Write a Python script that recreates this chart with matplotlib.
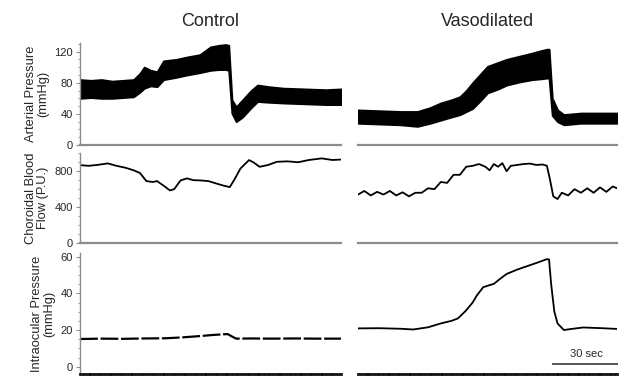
import matplotlib.pyplot as plt
from matplotlib.ticker import MultipleLocator

plt.rcParams['font.family'] = ['Liberation Sans', 'DejaVu Sans']

# --- arterial pressure (mmHg): upper / lower envelope of the pulsatile trace
ap_ctrl_t = [0, 5, 10, 15, 20, 25, 28, 30, 33, 36, 39, 45, 50, 56, 61, 65, 68, 69.5,
             71, 73, 76, 80, 83, 88, 95, 105, 115, 122]
ap_ctrl_hi = [84, 83, 84, 82, 83, 84, 92, 100, 96, 94, 108, 110, 113, 116, 126, 128, 129, 128,
              58, 49, 58, 70, 77, 75, 73, 72, 71, 72]
ap_ctrl_lo = [60, 61, 60, 60, 61, 62, 68, 73, 76, 75, 84, 87, 90, 93, 96, 97, 97, 96,
              41, 30, 36, 48, 56, 55, 54, 53, 52, 52]

ap_vaso_t = [0, 10, 20, 28, 34, 39, 44, 48, 51, 54, 58, 61, 66, 70, 76, 82, 86, 89, 90,
             91.5, 94, 97, 105, 115, 122]
ap_vaso_hi = [45, 44, 43, 43, 48, 54, 58, 62, 70, 80, 92, 101, 106, 110, 114, 118, 121, 123, 123,
              60, 45, 39, 41, 41, 41]
ap_vaso_lo = [28, 27, 26, 24, 28, 32, 36, 39, 43, 47, 58, 67, 72, 77, 81, 84, 85, 86, 86,
              38, 30, 26, 28, 28, 28]

# --- choroidal blood flow (P.U.)
cbf_ctrl_t = [0, 4, 8, 13, 17, 21, 25, 28, 31, 34, 36, 39, 42, 44, 47, 50, 53, 56, 60, 64,
              67, 70, 72, 75, 79, 81, 84, 88, 92, 97, 102, 107, 113, 118, 122]
cbf_ctrl = [868, 860, 870, 887, 860, 840, 811, 780, 690, 680, 690, 640, 586, 600, 698, 720,
            700, 698, 690, 661, 640, 623, 700, 830, 924, 900, 849, 870, 905, 910, 900, 925,
            943, 925, 930]

cbf_vaso_t = [0, 3, 6, 9, 12, 15, 18, 21, 24, 27, 30, 33, 36, 39, 42, 45, 48, 51, 54, 57,
              60, 62, 64, 66, 68, 70, 72, 75, 78, 81, 84, 87, 89, 90.5, 92, 94, 96, 99,
              102, 105, 108, 111, 114, 117, 120, 122]
cbf_vaso = [540, 580, 530, 570, 540, 580, 530, 565, 520, 560, 560, 610, 600, 680, 670, 760,
            760, 850, 860, 880, 850, 810, 880, 850, 890, 800, 860, 870, 880, 885, 870, 875,
            860, 700, 520, 490, 560, 530, 600, 560, 610, 560, 620, 570, 630, 610]

# --- intraocular pressure (mmHg)
iop_ctrl_t = [0, 10, 20, 30, 40, 48, 56, 62, 69, 71, 73, 80, 90, 100, 110, 122]
iop_ctrl = [15.1, 15.3, 15.2, 15.4, 15.5, 16.0, 16.7, 17.3, 17.8, 16.5, 15.3, 15.4, 15.3,
            15.4, 15.3, 15.3]

iop_vaso_t = [0, 10, 20, 26, 33, 39, 44, 47, 49, 51, 54, 56, 59, 62, 64, 67, 70, 75, 80,
              85, 89, 90, 91, 92.5, 94, 97, 100, 106, 115, 122]
iop_vaso = [20.9, 21.0, 20.7, 20.3, 21.5, 23.6, 25.0, 26.3, 28.5, 30.8, 35, 38.9, 43.4,
            44.5, 45.2, 48, 50.6, 53, 55, 57, 58.7, 58.5, 45, 30, 23.6, 20, 20.5, 21.4,
            21, 20.6]

titles = ['Control', 'Vasodilated']
ylabels = ['Arterial Pressure\n(mmHg)', 'Choroidal Blood\nFlow (P.U.)',
           'Intraocular Pressure\n(mmHg)']

fig = plt.figure(figsize=(6.21, 3.79), dpi=100)

# axes rectangles in figure fraction
cols = [(0.129, 0.420), (0.5765, 0.417)]
rows = [(0.6174, 0.2691), (0.3588, 0.2375), (0.0132, 0.3190)]
ylims = [(0, 131), (0, 1003), (-4, 62)]
majors = [40, 400, 20]
minors = [10, 100, 5]

grey = '#8c8c8c'
txt = '#262626'

axes = [[None, None] for _ in rows]
for r, (yb, h) in enumerate(rows):
    for c, (xl, w) in enumerate(cols):
        ax = fig.add_axes([xl, yb, w, h])
        ax.set_xlim(0, 122)
        ax.set_ylim(*ylims[r])
        ax.spines['top'].set_visible(False)
        ax.spines['right'].set_visible(False)
        ax.set_xticks([])
        if r < 2:
            ax.spines['bottom'].set_color(grey)
            ax.spines['bottom'].set_linewidth(1.6)
        else:
            ax.spines['bottom'].set_color('#111111')
            ax.spines['bottom'].set_linewidth(2.0)
            ax.spines['bottom'].set_linestyle((0, (3, 0.8)))
        if c == 0:
            ax.spines['left'].set_color(grey)
            ax.spines['left'].set_linewidth(1.0)
            ax.yaxis.set_major_locator(MultipleLocator(majors[r]))
            ax.yaxis.set_minor_locator(MultipleLocator(minors[r]))
            ax.tick_params(axis='y', which='major', length=3, width=0.8, color=grey,
                           labelsize=8, labelcolor=txt, pad=2)
            ax.tick_params(axis='y', which='minor', length=1.5, width=0.6, color=grey)
            ax.set_ylabel(ylabels[r], fontsize=9.3, color=txt, labelpad=4, linespacing=1.05)
        else:
            ax.spines['left'].set_visible(False)
            ax.set_yticks([])
        axes[r][c] = ax

axes[0][0].set_title(titles[0], fontsize=13, color=txt, pad=12)
axes[0][1].set_title(titles[1], fontsize=13, color=txt, pad=12)

# arterial pressure bands
axes[0][0].fill_between(ap_ctrl_t, ap_ctrl_lo, ap_ctrl_hi, color='black', lw=1.4,
                        edgecolor='black')
axes[0][1].fill_between(ap_vaso_t, ap_vaso_lo, ap_vaso_hi, color='black', lw=1.4,
                        edgecolor='black')

# choroidal blood flow
axes[1][0].plot(cbf_ctrl_t, cbf_ctrl, color='black', lw=1.3)
axes[1][1].plot(cbf_vaso_t, cbf_vaso, color='black', lw=1.3)

# intraocular pressure
axes[2][0].plot(iop_ctrl_t, iop_ctrl, color='black', lw=1.6, dashes=(8, 1.2))
axes[2][1].plot(iop_vaso_t, iop_vaso, color='black', lw=1.3)

# 30 sec scale bar
axes[2][1].plot([92, 122], [1.6, 1.6], color='#555555', lw=1.4, clip_on=False)
axes[2][1].text(107.5, 4.0, '30 sec', ha='center', va='bottom', fontsize=8, color=txt)

plt.savefig('out.png', dpi=100)
plt.close()
